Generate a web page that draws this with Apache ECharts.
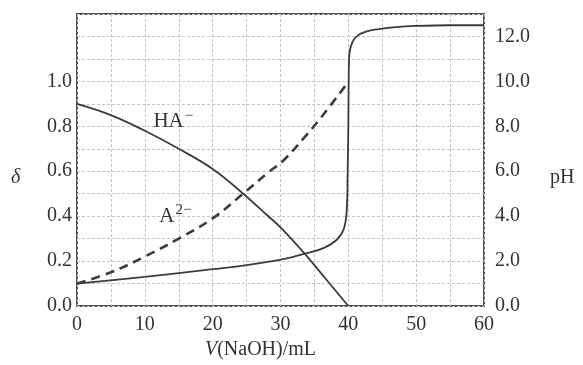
<!DOCTYPE html>
<html>
<head>
<meta charset="utf-8">
<script src="https://cdn.jsdelivr.net/npm/echarts@6/dist/echarts.min.js"></script>
<style>
  html, body { margin: 0; padding: 0; background: #fff; }
  #chart { width: 583px; height: 365px; }
</style>
</head>
<body>
<div id="chart"></div>
<script>
// V(NaOH) / mL vs value
const haMinus = [[0, 0.90], [5, 0.85], [10, 0.78], [15, 0.70], [20, 0.61], [24.5, 0.50],
  [28, 0.405], [30, 0.35], [33.5, 0.235], [36, 0.145], [40, 0.0]];
const aTwoMinus = [[0, 0.10], [5, 0.15], [10, 0.22], [15, 0.30], [20, 0.39], [24.5, 0.50],
  [28, 0.59], [30.5, 0.65], [33.5, 0.75], [36, 0.84], [39.8, 0.99]];
const phCurve = [[0, 1.0], [10, 1.3], [20, 1.64], [25, 1.82], [30, 2.06],
  [34, 2.36], [36.5, 2.6], [38.3, 2.95], [39.3, 3.4], [39.75, 4.2], [39.9, 6],
  [40, 8], [40.05, 10], [40.15, 11.2], [40.6, 11.75], [41.4, 12.05], [42.6, 12.22],
  [44.5, 12.33], [47, 12.42], [50, 12.47], [55, 12.5], [60, 12.5]];

const xTicks = [0, 10, 20, 30, 40, 50, 60];
const deltaTicks = [0, 0.2, 0.4, 0.6, 0.8, 1.0];
const phTicks = [0, 2, 4, 6, 8, 10, 12];

const font = 'Liberation Serif, Times New Roman, serif';
const ink = '#333';
const lineInk = '#3c3c3c';

const chart = echarts.init(document.getElementById('chart'));

const gridLine = { show: true, lineStyle: { color: '#c4c4c4', width: 1, type: [3, 2] } };
const supStyle = { fontSize: 15, verticalAlign: 'top', padding: [0, 0, 12, 1], color: ink, fontFamily: font };

function deltaLabel(v) {
  const r = Math.round(v * 10) / 10;
  return deltaTicks.some(t => Math.abs(t - r) < 1e-6) ? r.toFixed(1) : '';
}

function tag(coord, text) {
  return {
    symbol: 'circle', symbolSize: 1,
    itemStyle: { color: 'rgba(0,0,0,0)' },
    data: [{ coord: coord }],
    label: {
      show: true, position: 'inside', formatter: text, color: ink,
      fontFamily: font, fontSize: 21, rich: { s: supStyle }
    }
  };
}

const option = {
  animation: false,
  textStyle: { fontFamily: font },
  grid: {
    left: 77, right: 99, top: 14, bottom: 58,
    show: true, borderColor: '#505050', borderWidth: 2
  },
  xAxis: {
    type: 'value', min: 0, max: 60, interval: 5,
    name: '{i|V}(NaOH)/mL',
    nameLocation: 'middle', nameGap: 34,
    nameTextStyle: {
      fontFamily: font, fontSize: 20, color: ink, padding: [0, 40, 0, 0],
      rich: { i: { fontFamily: font, fontSize: 20, fontStyle: 'italic', color: ink } }
    },
    axisLine: { show: false }, axisTick: { show: false },
    axisLabel: {
      fontFamily: font, fontSize: 20, color: ink, margin: 9,
      formatter: v => xTicks.indexOf(v) >= 0 ? String(v) : ''
    },
    splitLine: gridLine
  },
  yAxis: [{
    type: 'value', min: 0, max: 1.3, interval: 0.1,
    axisLine: { show: false }, axisTick: { show: false },
    axisLabel: { fontFamily: font, fontSize: 20, color: ink, margin: 5, formatter: deltaLabel },
    splitLine: gridLine
  }, {
    type: 'value', min: 0, max: 13, interval: 1, position: 'right',
    axisLine: { show: false }, axisTick: { show: false },
    axisLabel: {
      fontFamily: font, fontSize: 20, color: ink, margin: 11,
      formatter: v => phTicks.indexOf(v) >= 0 ? v.toFixed(1) : ''
    },
    splitLine: { show: false }
  }],
  series: [{
    name: 'HA-', type: 'line', data: haMinus, yAxisIndex: 0,
    smooth: 0.4, symbol: 'none',
    lineStyle: { color: lineInk, width: 1.8 },
    markPoint: tag([14.2, 0.82], 'HA{s|−}')
  }, {
    name: 'A2-', type: 'line', data: aTwoMinus, yAxisIndex: 0,
    smooth: 0.4, symbol: 'none',
    lineStyle: { color: lineInk, width: 2.6, type: [9, 6] },
    markPoint: tag([14.5, 0.40], 'A{s|2−}')
  }, {
    name: 'pH', type: 'line', data: phCurve, yAxisIndex: 1,
    smooth: 0.4, symbol: 'none',
    lineStyle: { color: lineInk, width: 1.8 }
  }]
};

chart.setOption(option);

// axis names placed beside the tick labels, at δ ≈ 0.58 level
const nameY = chart.convertToPixel({ yAxisIndex: 0 }, 0.58);
chart.setOption({
  graphic: [{
    type: 'text', left: 11, top: nameY - 8,
    style: { text: 'δ', fontFamily: font, fontSize: 20, fontStyle: 'italic', fill: ink }
  }, {
    type: 'text', left: 550, top: nameY - 8,
    style: { text: 'pH', fontFamily: font, fontSize: 20, fill: ink }
  }]
});
</script>
</body>
</html>
